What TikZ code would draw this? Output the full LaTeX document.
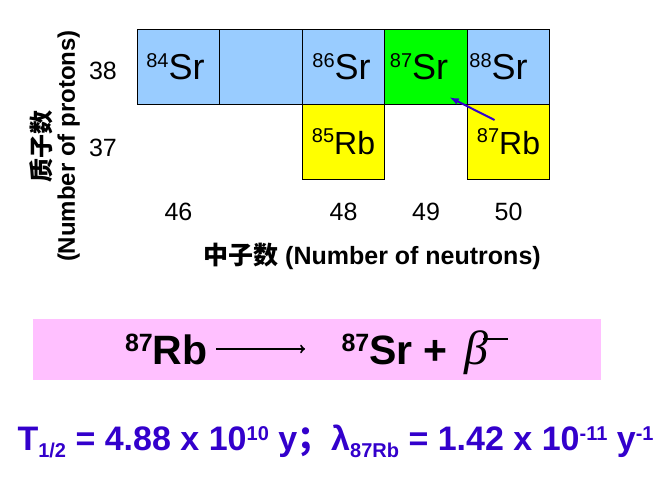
\documentclass[tikz,border=0pt]{standalone}
\usepackage{fontspec}
\setmainfont{Liberation Sans}
\newfontfamily\cjk{Noto Sans CJK SC}
\newfontfamily\greekserif{Liberation Serif}
\usetikzlibrary{calc}

\definecolor{srblue}{RGB}{153,204,255}
\definecolor{srgreen}{RGB}{0,255,0}
\definecolor{rbyellow}{RGB}{255,255,0}
\definecolor{eqpink}{RGB}{255,192,255}
\definecolor{decayblue}{RGB}{51,0,204}

\newcommand{\fs}[1]{\fontsize{#1}{#1}\selectfont}
\newcommand{\nuc}[2]{\raisebox{12pt}{\fs{20}#1}#2}
\newcommand{\supx}[2][10pt]{\raisebox{#1}{\fs{20}#2}}
\newcommand{\subx}[2][-7pt]{\raisebox{#1}{\fs{20}#2}}

\begin{document}
\begin{tikzpicture}[x=1pt,y=-1pt,
    cell/.style={draw=black,line width=1pt,minimum width=82.5pt,minimum height=75pt,inner sep=0pt},
    num/.style={font=\fs{25}},
    axislabel/.style={font=\fs{24}\bfseries}]
    \useasboundingbox (0,0) rectangle (672,483);

    \node[cell,fill=srblue,font=\fs{36}] (sr84) at (178.5,66.5) {\nuc{84}{Sr}\hspace*{6pt}};
    \node[cell,fill=srblue] (sr85) at (261,66.5) {};
    \node[cell,fill=srblue,font=\fs{36}] (sr86) at (343.5,66.5) {\nuc{86}{Sr}\hspace*{4pt}};
    \node[cell,fill=srgreen,font=\fs{36}] (sr87) at (426,66.5) {\nuc{87}{Sr}\hspace*{14pt}};
    \node[cell,fill=srblue,font=\fs{36}] (sr88) at (508.5,66.5) {\nuc{88}{Sr}\hspace*{20pt}};
    \node[cell,fill=rbyellow,font=\fs{32}] (rb85) at (343.5,142) {\nuc{85}{Rb}};
    \node[cell,fill=rbyellow,font=\fs{32}] (rb87) at (508.5,142) {\nuc{87}{Rb}};
    \draw[decayblue,line width=2pt,-latex] ($(rb87)+(-14,-22)$) -- ($(sr87)+(24,31)$);

    \node[num] (z38) at (103,71) {38};
    \node[num] (z37) at (103,148) {37};
    \node[num] (n46) at (178.5,212) {46};
    \node[num] (n48) at (343.5,212) {48};
    \node[num] (n49) at (426,212) {49};
    \node[num] (n50) at (508.5,212) {50};
    \node[axislabel,font=\fs{25}\bfseries] (nlabel) at (372,256) {{\cjk 中子数} (Number of neutrons)};
    \node[axislabel,rotate=90,align=center] (zlabel) at (55,146) {{\cjk 质子数}\\(Number of protons)};

    \node[fill=eqpink,minimum width=568pt,minimum height=61pt] (eqbox) at (317,349.5) {};
    \node[anchor=base east,font=\fs{41}\bfseries] (eqrb) at (211,364) {\raisebox{13pt}{\fs{25}87}Rb};
    \node[anchor=base west,font=\fs{41}\bfseries] (eqsr) at (338,364)
        {\raisebox{13pt}{\fs{25}87}Sr + \kern5pt{\greekserif\mdseries\itshape\fs{48}β}\kern-5pt\raisebox{24pt}{\rule{25pt}{2pt}}};
    \draw[line width=2pt,->,shorten <=5pt,shorten >=33pt] (eqrb.east) -- (eqrb.east -| eqsr.west);

    \node[anchor=base west,text=decayblue,font=\fs{34}\bfseries] (rates) at (14,450)
        {T\subx{1/2} = 4.88 x 10\supx{10} y{\cjk ；}λ\subx{87Rb} = 1.42 x 10\supx{-11} y\supx{-1}};
\end{tikzpicture}
\end{document}
